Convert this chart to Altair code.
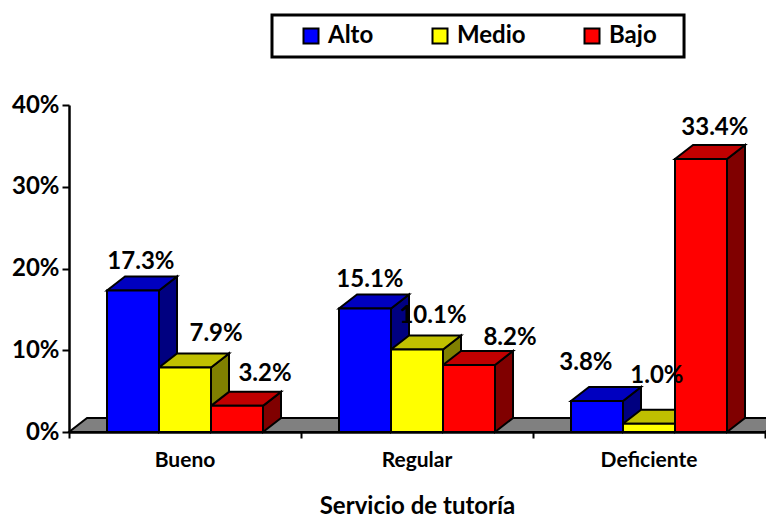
import altair as alt
import pandas as pd

categories = ["Bueno", "Regular", "Deficiente"]
series = ["Alto", "Medio", "Bajo"]
values = {
    "Alto": [17.3, 15.1, 3.8],
    "Medio": [7.9, 10.1, 1.0],
    "Bajo": [3.2, 8.2, 33.4],
}
front_colors = ["#0000ff", "#ffff00", "#ff0000"]
top_colors = ["#0000c0", "#c0c000", "#c00000"]
side_colors = ["#000080", "#808000", "#800000"]
label_x = {"Alto": [0.310, 1.297, 2.228], "Medio": [0.634, 1.569, 2.534], "Bajo": [0.845, 1.901, 2.784]}
label_y = {"Alto": [20.8, 18.6, 8.4], "Medio": [12.0, 14.2, 6.9], "Bajo": [7.1, 11.5, 37.2]}

BAR = 52 / 232
START = 38 / 232
DX = 18 / 232
DY = 14 / 8.175
FONT = "Lato"

front, tops, sides, labels = [], [], [], []
for ci, cat in enumerate(categories):
    for si, s in enumerate(series):
        v = values[s][ci]
        l = ci + START + si * BAR
        r = l + BAR
        k = f"{cat}-{s}"
        front.append(dict(s=s, l=l, r=r, v=v, b=0))
        tops += [
            dict(k=k, c=top_colors[si], y=v, a=l, b=r),
            dict(k=k, c=top_colors[si], y=v + DY, a=l + DX, b=r + DX),
        ]
        sides += [
            dict(k=k, c=side_colors[si], x=r, a=0, b=v),
            dict(k=k, c=side_colors[si], x=r + DX, a=DY, b=v + DY),
        ]
        labels.append(dict(x=label_x[s][ci], y=label_y[s][ci], t=f"{v:.1f}%"))

floor = pd.DataFrame([dict(y=0, a=0, b=3), dict(y=DY, a=DX, b=3 + DX)])
xs = alt.Scale(domain=[0, 3], nice=False, zero=False)
ys = alt.Scale(domain=[0, 40], nice=False)

x_axis = alt.Axis(
    values=[0, 1, 2, 3], labels=False, grid=False, title="Servicio de tutoría",
    titleFont=FONT, titleFontSize=24, titleFontWeight="bold", titleColor="black",
    titleBaseline="alphabetic", titleY=81, domainColor="black", domainWidth=2.5,
    tickColor="black", tickWidth=2, tickSize=6,
)
y_axis = alt.Axis(
    values=[0, 10, 20, 30, 40], labelExpr="datum.value + '%'", grid=False, title=None,
    labelFont=FONT, labelFontSize=24, labelFontWeight="bold", labelColor="black",
    labelPadding=3, domainColor="black", domainWidth=2.5, tickColor="black",
    tickWidth=2, tickSize=7,
)

floor_l = alt.Chart(floor).mark_area(fill="#808080", stroke="black", strokeWidth=2, orient="horizontal").encode(
    y=alt.Y("y:Q", scale=ys, axis=y_axis, stack=None),
    x=alt.X("a:Q", scale=xs, axis=x_axis),
    x2="b:Q",
)
side_l = alt.Chart(pd.DataFrame(sides)).mark_area(stroke="black", strokeWidth=2, orient="vertical").encode(
    x=alt.X("x:Q", scale=xs),
    y=alt.Y("a:Q", scale=ys, stack=None),
    y2="b:Q",
    fill=alt.Fill("c:N", scale=None),
    detail="k:N",
)
top_l = alt.Chart(pd.DataFrame(tops)).mark_area(stroke="black", strokeWidth=2, orient="horizontal").encode(
    y=alt.Y("y:Q", scale=ys, stack=None),
    x=alt.X("a:Q", scale=xs),
    x2="b:Q",
    fill=alt.Fill("c:N", scale=None),
    detail="k:N",
)
front_l = alt.Chart(pd.DataFrame(front)).mark_bar(stroke="black", strokeWidth=2).encode(
    x=alt.X("l:Q", scale=xs),
    x2="r:Q",
    y=alt.Y("b:Q", scale=ys),
    y2="v:Q",
    color=alt.Color(
        "s:N",
        scale=alt.Scale(domain=series, range=front_colors),
        legend=alt.Legend(
            orient="none", legendX=230, legendY=-81, direction="horizontal", columns=3,
            gridAlign="each", columnPadding=54, title=None, padding=0,
            symbolType="square", symbolSize=225, symbolStrokeColor="black", symbolStrokeWidth=2,
            symbolOpacity=1, labelFont=FONT, labelFontSize=24, labelFontWeight="bold",
            labelColor="black", labelOffset=5,
        ),
    ),
)
label_l = alt.Chart(pd.DataFrame(labels)).mark_text(
    font=FONT, fontSize=24, fontWeight="bold", color="black", baseline="middle", align="center"
).encode(x=alt.X("x:Q", scale=xs), y=alt.Y("y:Q", scale=ys), text="t:N")

cat_df = pd.DataFrame({"x": [0.5, 1.5, 2.5], "y": [-3.5] * 3, "t": categories})
cat_l = alt.Chart(cat_df).mark_text(
    font=FONT, fontSize=21, fontWeight="bold", color="black", baseline="middle", align="center"
).encode(x=alt.X("x:Q", scale=xs), y=alt.Y("y:Q", scale=ys), text="t:N")

box = pd.DataFrame([dict(x=0.875, x2=2.651, y=45.87, y2=51.0)])
box_l = alt.Chart(box).mark_rect(fill="white", stroke="black", strokeWidth=3).encode(
    x=alt.X("x:Q", scale=xs), x2="x2:Q", y=alt.Y("y:Q", scale=ys), y2="y2:Q"
)

chart = alt.layer(box_l, floor_l, side_l, top_l, front_l, label_l, cat_l).properties(
    width=696, height=327,
    padding={"left": 61, "top": 97, "right": 1, "bottom": 86},
    autosize=alt.AutoSizeParams(type="none"),
).configure_view(stroke=None)

chart.save("out.html", embed_options={"renderer": "svg", "actions": False})
